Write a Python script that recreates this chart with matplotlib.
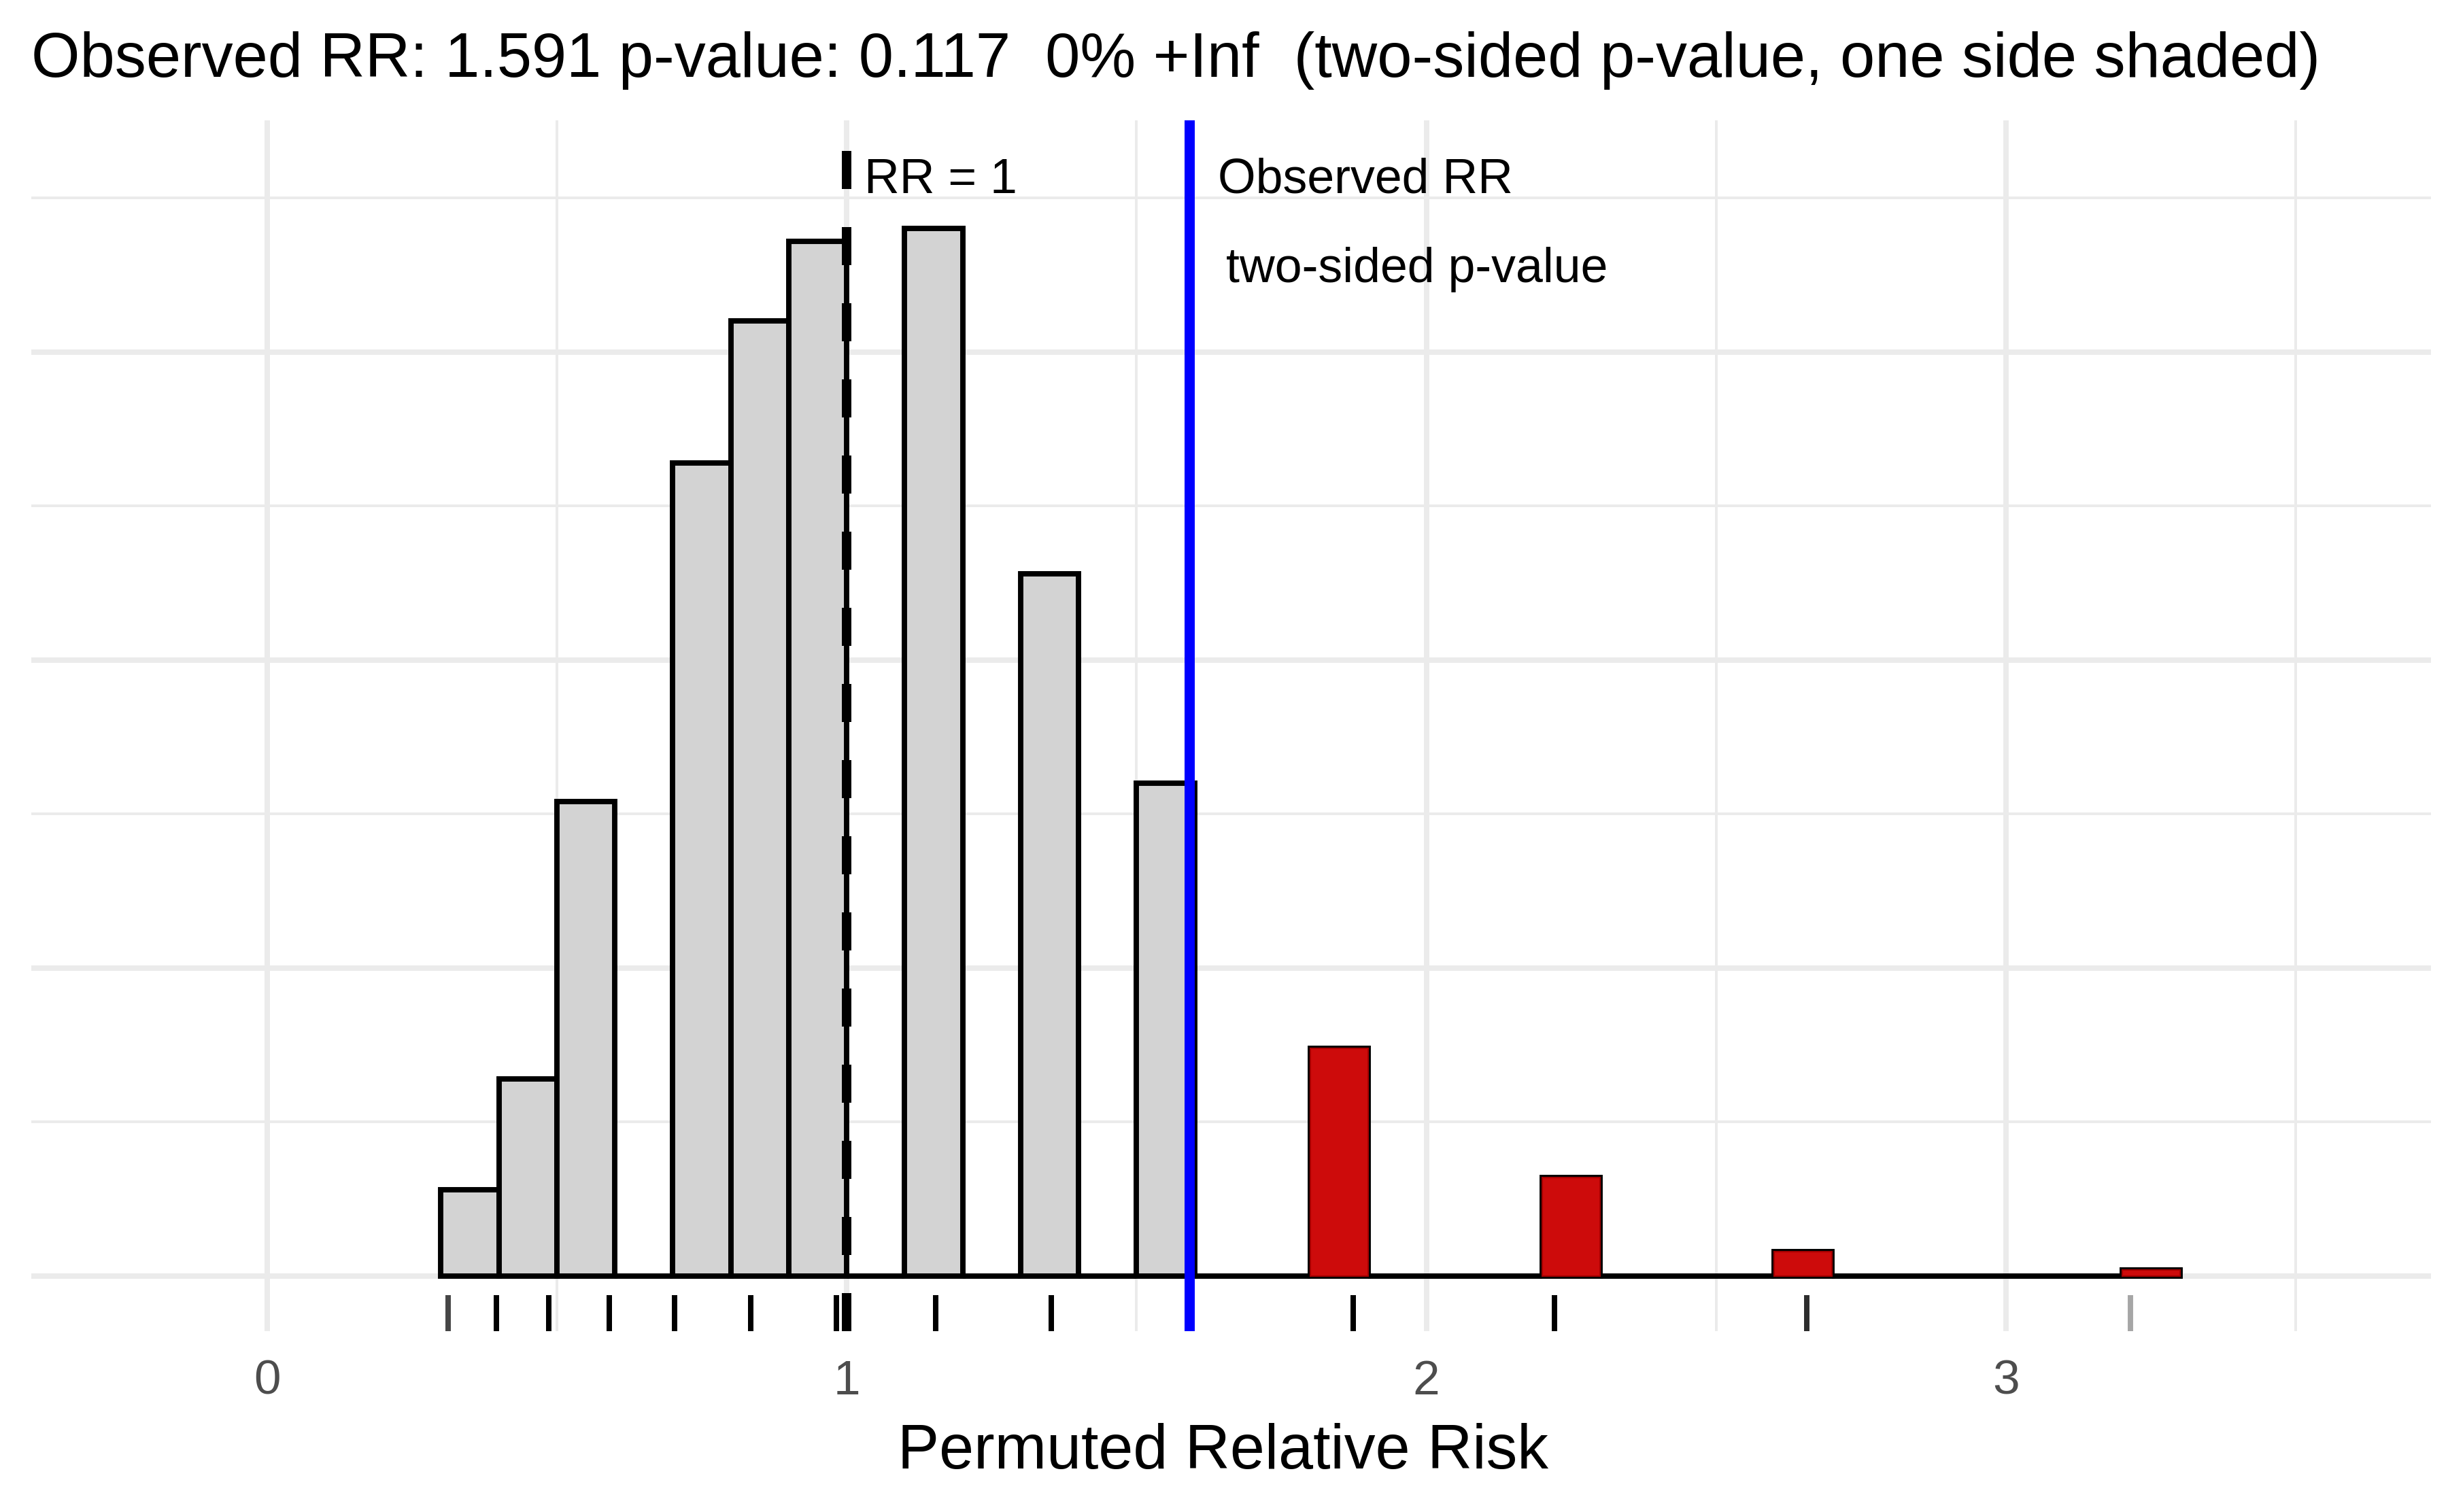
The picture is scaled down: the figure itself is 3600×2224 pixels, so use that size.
import matplotlib
matplotlib.use("Agg")
import matplotlib.pyplot as plt
import numpy as np

plt.rcParams["font.family"] = ["Liberation Sans", "DejaVu Sans"]

# permutation distribution of the relative risk (1000 permutations), bins of 0.1
bin_left = np.array([0.3, 0.4, 0.5, 0.6, 0.7, 0.8, 0.9, 1.0, 1.1, 1.2,
                     1.3, 1.4, 1.5, 1.6, 1.7, 1.8, 1.9, 2.0, 2.1, 2.2,
                     2.3, 2.4, 2.5, 2.6, 2.7, 2.8, 2.9, 3.0, 3.1, 3.2])
counts = np.array([14, 32, 77, 0, 132, 155, 168, 0, 170, 0,
                   114, 0, 80, 0, 0, 37, 0, 0, 0, 16,
                   0, 0, 0, 4, 0, 0, 0, 0, 0, 1])

# distinct permuted RR values (rug) and how often each occurred
rug_values = [0.313, 0.396, 0.486, 0.590, 0.703, 0.834, 0.982, 1.0, 1.153,
              1.353, 1.591, 1.874, 2.221, 2.656, 3.214]
rug_counts = [3, 11, 32, 77, 132, 155, 120, 48, 170, 114, 80, 37, 16, 4, 1]

observed_rr = 1.591
p_value = 0.117
title = "Observed RR: 1.591 p-value: 0.117  0% +Inf  (two-sided p-value, one side shaded)"

W, H = 3600, 2224
fig = plt.figure(figsize=(W / 300, H / 300), dpi=300)
ax = fig.add_axes([46 / W, 1 - 1958 / H, (3575 - 46) / W, (1958 - 177) / H])
ax.set_xlim(-0.4065, 3.733)
ax.set_ylim(-8.94, 187.6)

# grid like theme_minimal
ax.set_xticks([0, 1, 2, 3])
ax.set_xticks([0.5, 1.5, 2.5, 3.5], minor=True)
ax.set_yticks([0, 50, 100, 150])
ax.set_yticks([25, 75, 125, 175], minor=True)
ax.grid(which="major", color="#EBEBEB", linewidth=1.9)
ax.grid(which="minor", color="#EBEBEB", linewidth=0.95)
ax.set_axisbelow(True)
for s in ax.spines.values():
    s.set_visible(False)
ax.tick_params(which="both", length=0, labelleft=False)
ax.tick_params(axis="x", labelsize=17.1, labelcolor="#4D4D4D", pad=10)

# histogram
ax.bar(bin_left, counts, width=0.1, align="edge", color="#D3D3D3",
       edgecolor="black", linewidth=1.9, zorder=2)
tail = (bin_left >= observed_rr) & (counts > 0)
ax.bar(bin_left[tail], counts[tail], width=0.1, align="edge", color="#CD0B0B",
       edgecolor="#A50000", linewidth=0.5, zorder=3)

# RR = 1 reference
ax.plot([1, 1], [-8.94, 182.6], color="black", linewidth=3.36,
        linestyle=(0, (4, 4)), zorder=4)

# rug of permuted values
ax.vlines(np.repeat(rug_values, rug_counts), 0, 0.03,
          transform=ax.get_xaxis_transform(), colors="black", alpha=0.35,
          linewidth=1.9, zorder=5)

# observed
ax.axvline(observed_rr, color="#0000FF", linewidth=3.6, zorder=6)

ax.text(1.03, 175.8, "RR = 1", fontsize=17.2, va="baseline", ha="left", zorder=7)
ax.text(1.64, 175.8, "Observed RR", fontsize=17.2, va="baseline", ha="left", zorder=7)
ax.text(1.655, 161.3, "two-sided p-value", fontsize=17.2, va="baseline", ha="left", zorder=7)

fig.text(46 / W, 1 - 113 / H, title, fontsize=22.1, va="baseline", ha="left")
fig.text(1798 / W, 1 - 2160 / H, "Permuted Relative Risk", fontsize=22.0,
         va="baseline", ha="center")

fig.savefig("out.png", dpi=300)
